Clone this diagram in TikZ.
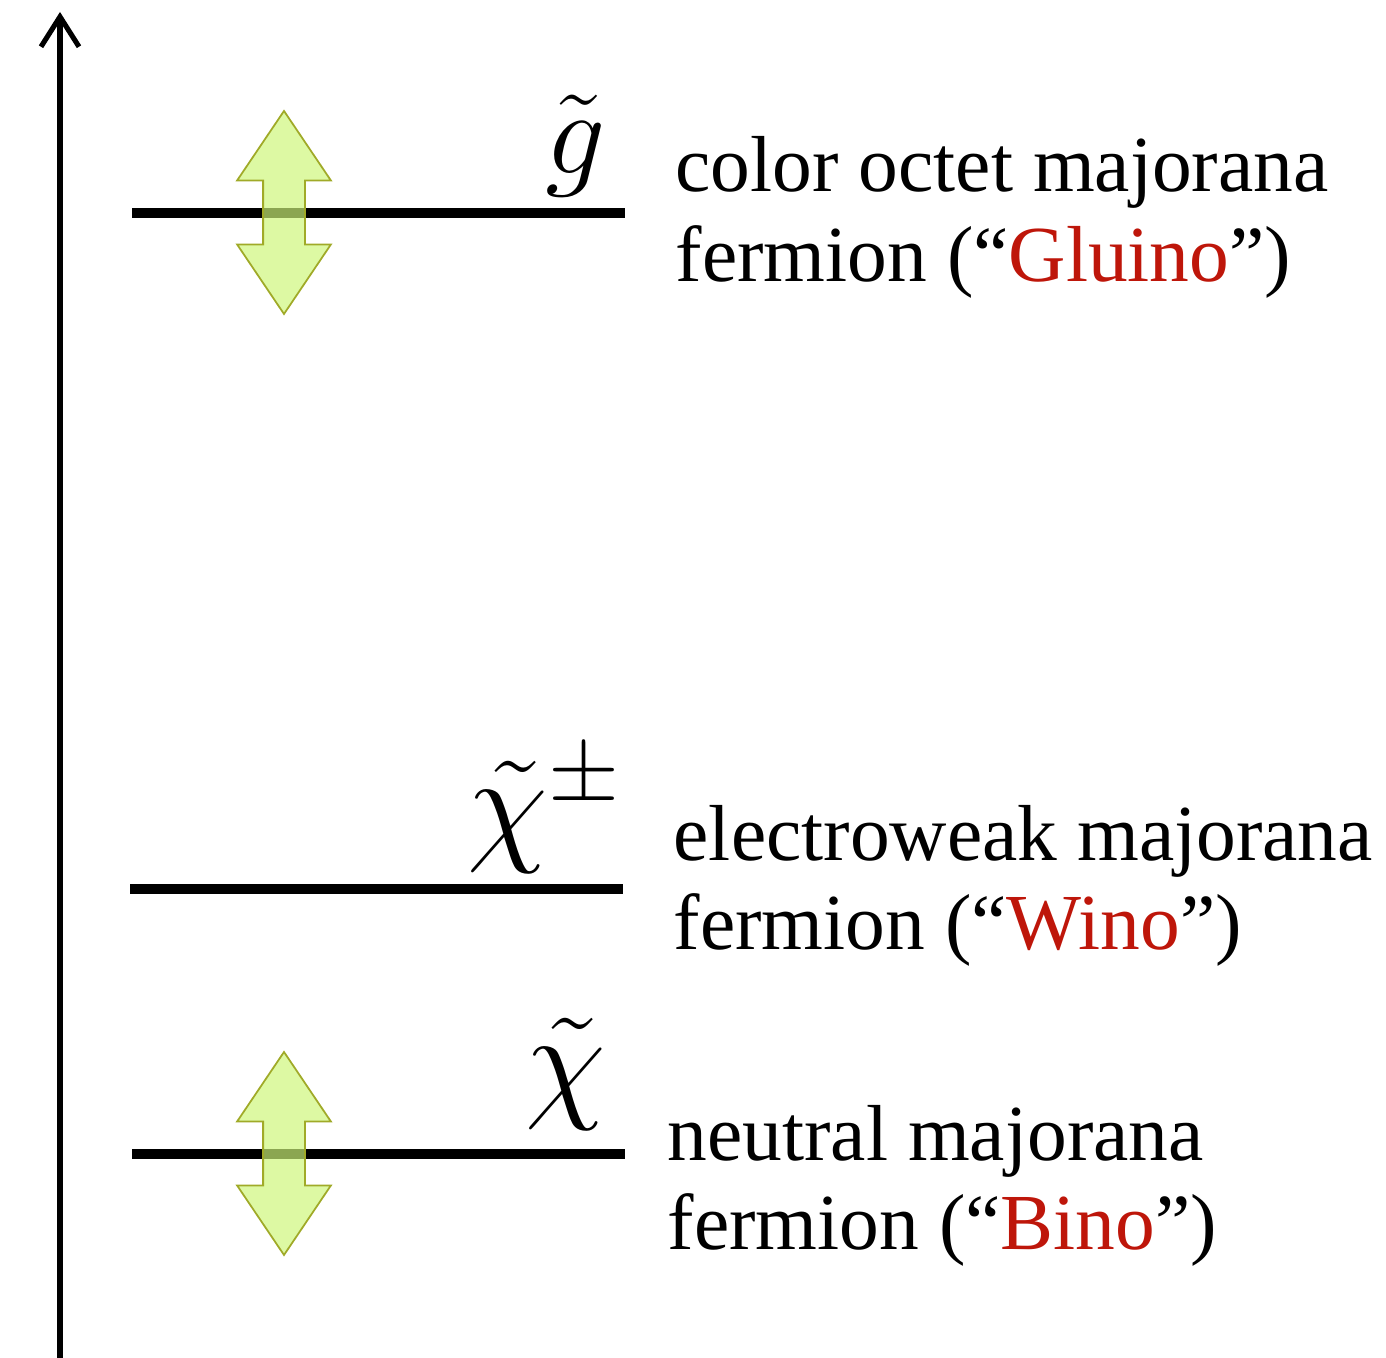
\documentclass[tikz,border=0pt]{standalone}
\usepackage{fontspec}
\setmainfont{Liberation Serif}
\usetikzlibrary{arrows.meta,shapes.arrows}

\begin{document}
\begin{tikzpicture}[
  >={Straight Barb[length=0.3cm, width=0.38cm]},
  axis/.style={line width=1.45pt, line cap=round},
  level/.style={line width=2.9pt},
  shiftarrow/.style={double arrow, draw=arrowedge, fill=arrowfill, fill opacity=0.68, draw opacity=1,
    line width=0.5pt, rotate=90, inner sep=0.2cm, minimum height=2.03cm,
    double arrow head extend=0.26cm, double arrow tip angle=68},
  sym/.style={anchor=base east, inner sep=0pt, font=\fontsize{20.74}{24}\selectfont, scale=1.64, transform shape},
  desc/.style={anchor=base west, inner sep=0pt, align=left, font=\fontsize{22.6}{25.6}\selectfont}
]

\definecolor{arrowfill}{RGB}{205,246,120}
\definecolor{arrowedge}{RGB}{160,170,40}
\definecolor{cred}{RGB}{190,22,10}

\useasboundingbox (0,0) rectangle (13.86,13.58);

% mass axis
\coordinate (ybot) at (0.60,0);
\coordinate (ytop) at (0.60,13.46);
\draw[axis, ->] (ybot) -- (ytop);

% levels
\coordinate (gluL) at (1.32,11.45);
\coordinate (gluR) at (6.25,11.45);
\coordinate (winL) at (1.30,4.69);
\coordinate (winR) at (6.23,4.69);
\coordinate (binL) at (1.32,2.04);
\coordinate (binR) at (6.25,2.04);
\draw[level] (gluL) -- (gluR);
\draw[level] (winL) -- (winR);
\draw[level] (binL) -- (binR);

\node[shiftarrow] (gluShift) at (2.84,11.455) {};
\node[shiftarrow] (binShift) at (2.84,2.045) {};

% labels
\node[sym] (gluSym) at (6.07,11.84) {$\tilde g$};
\node[sym, scale=1.1] (winSym) at (6.24,5.10) {$\tilde\chi^{\pm}$};
\node[sym, scale=1.1] (binSym) at (6.07,2.53) {$\tilde\chi$};

\node[desc] (gluText) at (6.75,10.76) {color octet majorana\\fermion (``\textcolor{cred}{Gluino}'')};
\node[desc] (winText) at (6.73,4.08) {electroweak majorana\\fermion (``\textcolor{cred}{Wino}'')};
\node[desc] (binText) at (6.67,1.08) {neutral majorana\\fermion (``\textcolor{cred}{Bino}'')};

\end{tikzpicture}
\end{document}
